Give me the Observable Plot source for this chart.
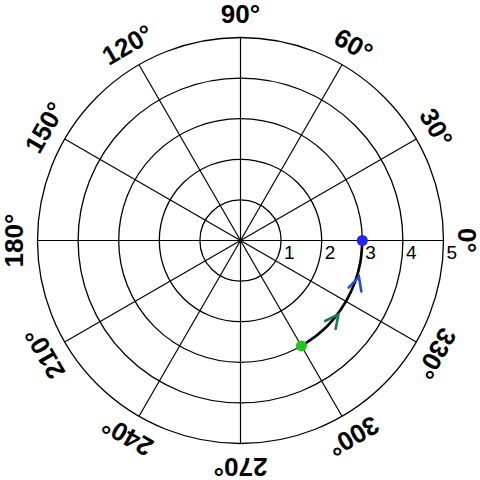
<!DOCTYPE html>
<html><head><meta charset="utf-8">
<script src="https://cdn.jsdelivr.net/npm/d3@7"></script>
<script src="https://cdn.jsdelivr.net/npm/@observablehq/plot@0.6"></script>
<style>body{margin:0;background:#fff}</style>
</head><body><div id="chart"></div>
<script>
// ---- data ----
const ringRadii = [1, 2, 3, 4, 5];
const spokeAngles = [0, 30, 60, 90, 120, 150, 180, 210, 240, 270, 300, 330];
const angleLabels = ["0°", "30°", "60°", "90°", "120°", "150°", "180°", "210°", "240°", "270°", "300°", "330°"];
const radialTicks = [1, 2, 3, 4, 5];
const radialTickLabels = ["1", "2", "3", "4", "5"];
const pathAngles = [-60, -50, -40, -30, -20, -10, 0];
const pathRadii = [3, 3, 3, 3, 3, 3, 3];
const startAngle = -60, startRadius = 3;
const endAngle = 0, endRadius = 3;
const arrowAngles = [-37, -17];
const arrowRadii = [3.02, 3.05];
const arrowColors = ["#1b7a52", "#1f4fd6"];

// ---- helpers ----
const rad = a => a * Math.PI / 180;
const px = (r, a) => r * Math.cos(rad(a));
const py = (r, a) => r * Math.sin(rad(a));
const rMax = 5;
const labelR = 5.55;

const spokes = spokeAngles.map(a => ({a}));
const labels = spokeAngles.map((a, i) => ({a, t: angleLabels[i]}));
const ticks = radialTicks.map((r, i) => ({r, t: radialTickLabels[i]}));
const path = pathAngles.map((a, i) => ({a, r: pathRadii[i]}));
const arrows = arrowAngles.map((a, i) => ({a, r: arrowRadii[i], c: arrowColors[i]}));
const endpoints = [
  {a: startAngle, r: startRadius, c: "#22c522"},
  {a: endAngle, r: endRadius, c: "#2424f5"}
];

const chevron = {
  draw(ctx) {
    ctx.moveTo(-6.6, 13.4);
    ctx.lineTo(0, 0);
    ctx.lineTo(6.6, 13.4);
  }
};

const font = "'Liberation Sans', Arial, sans-serif";

const chart = Plot.plot({
  width: 480,
  height: 480,
  margin: 0,
  x: {domain: [-rMax, rMax], range: [37, 443], axis: null},
  y: {domain: [-rMax, rMax], range: [443, 37], axis: null},
  r: {type: "linear", domain: [0, rMax], range: [0, 203]},
  color: {type: "identity"},
  style: {background: "white", fontFamily: font},
  marks: [
    Plot.dot(ringRadii, {x: () => 0, y: () => 0, r: d => d, fill: "none", stroke: "black", strokeWidth: 1.3}),
    Plot.link(spokes, {x1: () => 0, y1: () => 0, x2: d => px(rMax, d.a), y2: d => py(rMax, d.a), stroke: "black", strokeWidth: 1.2}),
    Plot.line(path, {x: d => px(d.r, d.a), y: d => py(d.r, d.a), stroke: "black", strokeWidth: 2.7, curve: "catmull-rom"}),
    Plot.vector(arrows, {x: d => px(d.r, d.a), y: d => py(d.r, d.a), rotate: d => -d.a, length: 0, anchor: "start", shape: chevron, stroke: d => d.c, strokeWidth: 2.6, strokeLinecap: "round", strokeLinejoin: "miter"}),
    Plot.dot(endpoints, {x: d => px(d.r, d.a), y: d => py(d.r, d.a), r: 5.5, fill: d => d.c, stroke: "none"}),
    Plot.text(ticks, {x: d => d.r, y: () => 0, text: d => d.t, textAnchor: "start", dx: 3, dy: 12.5, fontSize: 19, fill: "black"}),
    Plot.text(labels, {x: d => px(labelR, d.a), y: d => py(labelR, d.a), text: d => d.t, rotate: d => 90 - d.a, fontSize: 26, fontWeight: "bold", fill: "black"})
  ]
});
document.getElementById("chart").appendChild(chart);
</script>
</body></html>
